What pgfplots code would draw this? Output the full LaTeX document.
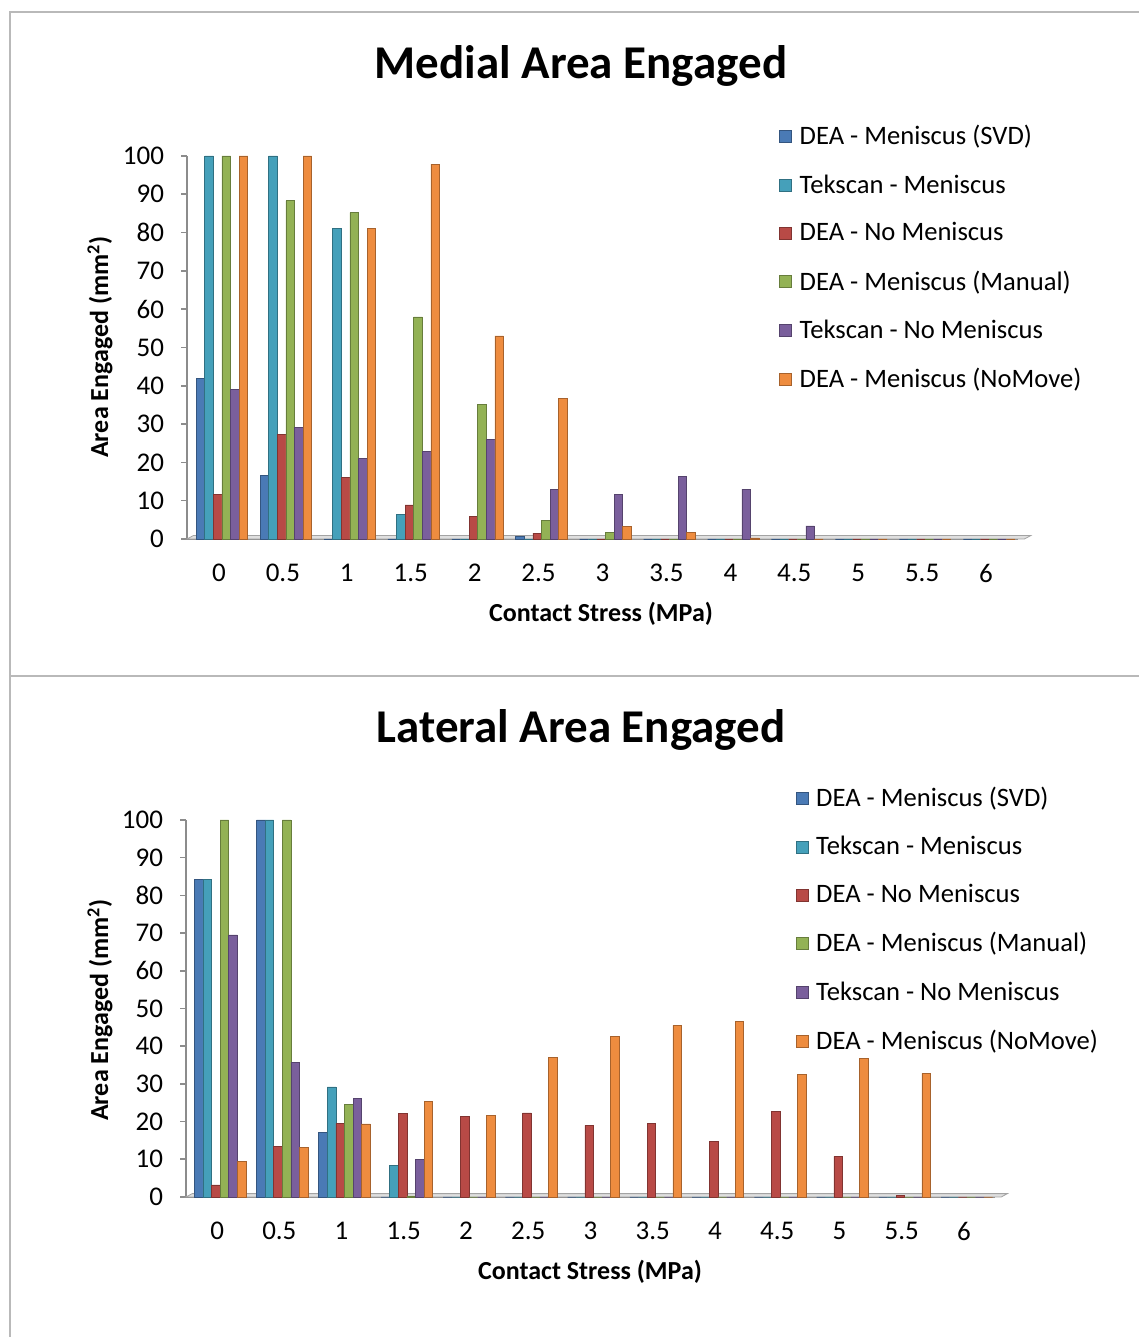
\documentclass[border=0pt]{standalone}
\usepackage{pgfplots}
\pgfplotsset{compat=1.18}
\usepackage{pgfplotstable}
\usepackage{fontspec}
\setmainfont{Carlito}
\definecolor{cA}{HTML}{4A7AB5}
\definecolor{cB}{HTML}{45A0BA}
\definecolor{cC}{HTML}{B84A46}
\definecolor{cD}{HTML}{93B255}
\definecolor{cE}{HTML}{7A5F9C}
\definecolor{cF}{HTML}{EE8C3F}
\definecolor{axgray}{HTML}{8C8C8C}

\pgfplotstableread{
x SVD Tek NoMen Man TekNo NoMove
0 42 100 11.7 100 39 100
1 16.7 100 27.3 88.3 29.2 100
2 0 81 16.1 85.2 21.1 81
3 0 6.5 8.9 58 22.9 97.9
4 0 0 6 35.2 26 53
5 0.6 0 1.5 4.9 13 36.8
6 0 0 0 1.8 11.6 3.2
7 0 0 0 0 16.4 1.8
8 0 0 0 0 13 0.3
9 0 0 0 0 3.4 0
10 0 0 0 0 0 0
11 0 0 0 0 0 0
12 0 0 0 0 0 0
}\medial

\pgfplotstableread{
x SVD Tek NoMen Man TekNo NoMove
0 84.2 84.2 3.2 100 69.5 9.5
1 100 100 13.4 100 35.8 13.2
2 17.1 29.2 19.5 24.5 26.2 19.4
3 0 8.4 22.2 0.3 10 25.3
4 0 0 21.3 0 0 21.7
5 0 0 22.3 0 0 37
6 0 0 19 0 0 42.5
7 0 0 19.5 0 0 45.5
8 0 0 14.8 0 0 46.5
9 0 0 22.8 0 0 32.5
10 0 0 10.8 0 0 36.8
11 0 0 0.5 0 0 32.8
12 0 0 0 0 0 0
}\lateral

\pgfplotsset{
  areachart/.style={
    scale only axis,
    ybar=0pt, bar width=4.3pt,
    xmin=-0.5, xmax=12.5, ymin=0, ymax=100,
    enlargelimits=false,
    clip=false,
    axis lines*=left,
    axis line style={axgray, line width=0.8pt},
    tick align=outside,
    xtick={0,...,12},
    xticklabels={0,0.5,1,1.5,2,2.5,3,3.5,4,4.5,5,5.5,6},
    x tick style={draw=none},
    minor xtick={-0.5,0.5,...,12.5},
    minor x tick style={axgray, line width=0.8pt},
    minor tick length=4pt,
    ytick={0,10,...,100},
    y tick style={axgray, line width=0.8pt},
    major tick length=3pt,
    tick label style={font=\fontsize{13.5}{15}\selectfont, black},
    /pgf/number format/assume math mode=true,
    xticklabel style={yshift=-6pt},
    yticklabel style={xshift=-5pt},
    legend cell align=left,
    legend style={draw=none, fill=none, inner sep=0pt,
      font=\fontsize{13.3}{15}\selectfont, row sep=9.3pt, column sep=2pt,
      anchor=north west},
    legend image code/.code={\fill[##1] (0pt,-3pt) rectangle (6pt,3pt);},
  },
  barstyle/.style={fill=#1, draw=#1!70!black, line width=0.3pt, xshift=1.5pt},
}

\begin{document}
\begin{tikzpicture}
\path[use as bounding box] (0pt,0pt) rectangle (569.5pt,668.5pt);
\fill[white] (0pt,0pt) rectangle (569.5pt,668.5pt);
\draw[gray!55, line width=1.1pt] (5pt,0pt) -- (5pt,662.5pt) -- (569.5pt,662.5pt);
\draw[gray!55, line width=1.1pt] (5pt,330.5pt) -- (569.5pt,330.5pt);

% ---------- Medial ----------
\begin{axis}[areachart, width=415.5pt, height=191.5pt,
  at={(93.5pt,399pt)}, anchor=south west,
  legend style={at={(0.712,1.091)}}]
\fill[gray!25, draw=axgray!80, line width=0.4pt] (axis cs:-0.5,0) -- (axis cs:12.6,0) -- (axis cs:12.7,0.9) -- (axis cs:-0.4,0.9) -- cycle;
\addplot[barstyle=cA] table[x=x, y=SVD]{\medial};
\addplot[barstyle=cB] table[x=x, y=Tek]{\medial};
\addplot[barstyle=cC] table[x=x, y=NoMen]{\medial};
\addplot[barstyle=cD] table[x=x, y=Man]{\medial};
\addplot[barstyle=cE] table[x=x, y=TekNo]{\medial};
\addplot[barstyle=cF] table[x=x, y=NoMove]{\medial};
\legend{DEA - Meniscus (SVD), Tekscan - Meniscus, DEA - No Meniscus, DEA - Meniscus (Manual), Tekscan - No Meniscus, DEA - Meniscus (NoMove)}
\end{axis}

% ---------- Lateral ----------
\begin{axis}[areachart, width=404.5pt, height=188.5pt,
  at={(93pt,70pt)}, anchor=south west,
  legend style={at={(0.753,1.098)}}]
\fill[gray!25, draw=axgray!80, line width=0.4pt] (axis cs:-0.5,0) -- (axis cs:12.6,0) -- (axis cs:12.7,0.9) -- (axis cs:-0.4,0.9) -- cycle;
\addplot[barstyle=cA] table[x=x, y=SVD]{\lateral};
\addplot[barstyle=cB] table[x=x, y=Tek]{\lateral};
\addplot[barstyle=cC] table[x=x, y=NoMen]{\lateral};
\addplot[barstyle=cD] table[x=x, y=Man]{\lateral};
\addplot[barstyle=cE] table[x=x, y=TekNo]{\lateral};
\addplot[barstyle=cF] table[x=x, y=NoMove]{\lateral};
\legend{DEA - Meniscus (SVD), Tekscan - Meniscus, DEA - No Meniscus, DEA - Meniscus (Manual), Tekscan - No Meniscus, DEA - Meniscus (NoMove)}
\end{axis}

% titles and labels
\node[font=\fontsize{23.5}{26}\selectfont\bfseries] at (290.5pt,635.5pt) {Medial Area Engaged};
\node[font=\fontsize{23.5}{26}\selectfont\bfseries] at (290.5pt,303.5pt) {Lateral Area Engaged};
\node[font=\fontsize{13}{15}\selectfont\bfseries] at (300.5pt,361.5pt) {Contact Stress (MPa)};
\node[font=\fontsize{13}{15}\selectfont\bfseries] at (295pt,32.5pt) {Contact Stress (MPa)};
\node[font=\fontsize{13}{15}\selectfont\bfseries, rotate=90] at (50pt,495pt) {Area Engaged (mm\textsuperscript{2})};
\node[font=\fontsize{13}{15}\selectfont\bfseries, rotate=90] at (50pt,163.5pt) {Area Engaged (mm\textsuperscript{2})};
\end{tikzpicture}
\end{document}
